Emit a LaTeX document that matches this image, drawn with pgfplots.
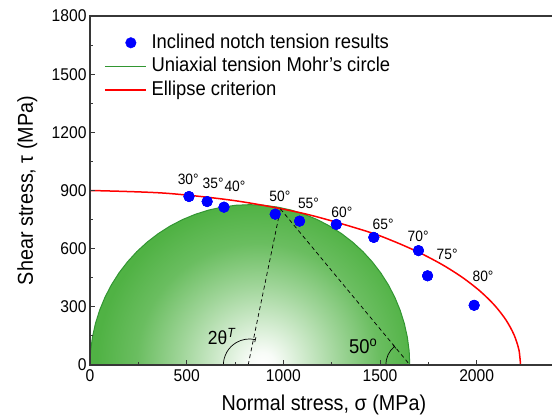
\documentclass[border=0pt]{standalone}
\usepackage{fontspec}
\setmainfont{Liberation Sans}[FakeStretch=0.92]
\usepackage{pgfplots}
\usepackage{pgfplotstable}
\pgfplotsset{compat=1.18}
\usetikzlibrary{arrows.meta}
\definecolor{ptblue}{RGB}{0,0,255}
\definecolor{mohrfill}{RGB}{80,178,68}
\definecolor{mohredge}{RGB}{50,150,50}
\definecolor{axgray}{RGB}{55,55,55}
\pgfdeclareradialshading{mohr}{\pgfpoint{2bp}{0bp}}{color(0bp)=(white); color(2bp)=(white!96!mohrfill); color(12.5bp)=(mohrfill!55!white); color(19bp)=(mohrfill!85!white); color(25bp)=(mohrfill); color(50bp)=(mohrfill)}

\pgfplotstableread{
x y
512 869
606 843
693 814
958 778
1084 742
1274 725
1468 658
1699 590
1746 460
1987 308
}\notchdata

\pgfplotstableread{
x y
1654 0
1650.9 72.1
1641.4 143.6
1625.8 214.0
1604.1 282.8
1576.5 349.5
1543.2 413.5
1504.4 474.4
1460.5 531.6
1411.8 584.8
1358.6 633.5
1301.4 677.4
1240.5 716.2
1176.5 749.5
1109.8 777.1
1041.0 798.8
970.6 814.4
899.1 823.9
827 827
754.9 823.9
683.4 814.4
613.0 798.8
544.2 777.1
477.5 749.5
413.5 716.2
352.6 677.4
295.4 633.5
242.2 584.8
193.5 531.6
149.6 474.4
110.8 413.5
77.5 349.5
49.9 282.8
28.2 214.0
12.6 143.6
3.1 72.1
0 0
}\mohrarc

\pgfplotstableread{
x y
1654 0
1650.9 72.1
1641.4 143.6
1625.8 214.0
1604.1 282.8
1576.5 349.5
1543.2 413.5
1504.4 474.4
1460.5 531.6
1411.8 584.8
1358.6 633.5
1301.4 677.4
1240.5 716.2
1176.5 749.5
1109.8 777.1
1041.0 798.8
970.6 814.4
899.1 823.9
827 827
754.9 823.9
683.4 814.4
613.0 798.8
544.2 777.1
477.5 749.5
413.5 716.2
352.6 677.4
295.4 633.5
242.2 584.8
193.5 531.6
149.6 474.4
110.8 413.5
77.5 349.5
49.9 282.8
28.2 214.0
12.6 143.6
3.1 72.1
0 0
0 -827
1654 -827
}\mohrregion

\pgfplotstableread{
x y
0 900
386.6 886.3
761.6 845.7
1113.5 779.4
1431.5 689.4
1574.7 636.4
1705.9 578.5
1824.3 516.2
1928.6 450.0
2018.3 380.3
2092.7 307.8
2151.1 232.9
2193.1 156.2
2218.5 78.4
2227 0
}\ellipsedata

\begin{document}
\begin{tikzpicture}
\begin{axis}[
  name=ax,
  scale only axis,
  width=464bp, height=349bp,
  xmin=0, xmax=2400, ymin=0, ymax=1800,
  xtick={0,500,1000,1500,2000},
  ytick={0,300,600,900,1200,1500,1800},
  minor x tick num=1, minor y tick num=1,
  xtick pos=bottom, ytick pos=left,
  tick align=inside,
  major tick length=5bp, minor tick length=3bp,
  axis line style={axgray, line width=1.1bp},
  every tick/.style={axgray, line width=0.9bp},
  axis on top,
  /pgf/number format/1000 sep={},
  /pgf/number format/assume math mode=true,
  tick label style={font=\fontsize{17bp}{17bp}\selectfont},
  xticklabel style={yshift=-1bp},
  xlabel={Normal stress, σ (MPa)},
  ylabel={Shear stress, τ (MPa)},
  label style={font=\fontsize{21.5bp}{23bp}\selectfont},
  x label style={at={(axis description cs:0.504,-0.115)}, anchor=center},
  y label style={at={(axis description cs:-0.135,0.5)}, anchor=center},
  legend image code/.code={\draw[mark repeat=2, mark phase=2, #1] plot coordinates {(0bp,0bp) (26bp,0bp) (41bp,0bp)};},
  legend style={draw=none, fill=none, at={(axis cs:72,1717)}, anchor=north west,
    inner sep=0pt, row sep=2.5bp, column sep=4bp,
    font=\fontsize{20bp}{22bp}\selectfont,
    nodes={inner sep=1bp, text height=15bp, text depth=4bp}},
  legend cell align=left,
]
% Mohr's circle fill
\addplot[draw=none, shade, shading=mohr, forget plot] table {\mohrregion};
% data points (legend entry; redrawn on top below)
\addplot[only marks, mark=*, mark size=5.3bp, ptblue] table {\notchdata};
\addlegendentry{Inclined notch tension results}
% Mohr's circle outline
\addplot[mohredge, line width=1bp, mark=none] table {\mohrarc};
\addlegendentry{Uniaxial tension Mohr's circle}
% ellipse criterion
\addplot[red, line width=1.5bp, smooth, mark=none] table {\ellipsedata};
\addlegendentry{Ellipse criterion}
% dashed construction lines
\addplot[black, line width=0.7bp, dash pattern=on 4bp off 3bp, forget plot] coordinates {(818,0) (985,805)};
\addplot[black, line width=0.7bp, dash pattern=on 4bp off 3bp, forget plot] coordinates {(985,805) (1655,0)};
% data points on top
\addplot[only marks, mark=*, mark size=5.3bp, ptblue, forget plot] table {\notchdata};

% angle arcs
\draw[black, line width=0.7bp, -{Bar[width=5bp, line width=0.7bp]}] (axis cs:690,0) arc[start angle=180, end angle=76, radius=26bp];
\draw[black, line width=0.7bp, -{Bar[width=5bp, line width=0.7bp]}] (axis cs:1530,0) arc[start angle=180, end angle=129, radius=24bp];
\node[font=\fontsize{19bp}{19bp}\selectfont] at (axis cs:681,146) {2θ\textsuperscript{\itshape T}};
\node[font=\fontsize{20bp}{20bp}\selectfont] at (axis cs:1413,95) {50\textsuperscript{o}};

% point labels
\begin{scope}[every node/.style={font=\fontsize{15bp}{15bp}\selectfont}]
\node at (axis cs:508,955) {30°};
\node at (axis cs:637,935) {35°};
\node at (axis cs:750,921) {40°};
\node at (axis cs:982,869) {50°};
\node at (axis cs:1130,835) {55°};
\node at (axis cs:1303,789) {60°};
\node at (axis cs:1516,723) {65°};
\node at (axis cs:1697,663) {70°};
\node at (axis cs:1847,573) {75°};
\node at (axis cs:2033,456) {80°};
\end{scope}
\end{axis}
\pgfresetboundingbox
\useasboundingbox ([shift={(-90bp,-51bp)}]ax.south west) rectangle ([shift={(-2bp,16bp)}]ax.north east);
\end{tikzpicture}
\end{document}
